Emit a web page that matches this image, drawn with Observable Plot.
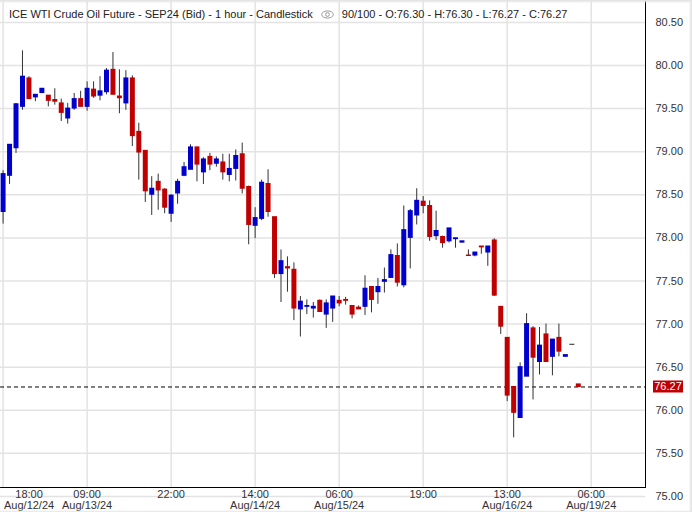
<!DOCTYPE html>
<html><head><meta charset="utf-8">
<script src="https://cdn.jsdelivr.net/npm/d3@7"></script>
<script src="https://cdn.jsdelivr.net/npm/@observablehq/plot@0.6"></script>
<style>
html,body{margin:0;padding:0;background:#fff;}
#wrap{position:relative;width:692px;height:512px;overflow:hidden;font-family:"Liberation Sans",Arial,sans-serif;}
#chart svg{display:block;}
#title{position:absolute;left:9px;top:8px;font-size:11px;line-height:13px;color:#222;white-space:nowrap;}
#title svg{vertical-align:-1px;margin:0 8px 0 8px;}
#edge{position:absolute;left:0;top:0;width:692px;height:512px;pointer-events:none;
 box-shadow: inset 0 3px 2px -1px #e4e4e4, inset -3px 0 2px -1px #e4e4e4, inset 0 -2px 2px -1px #e4e4e4;}
</style></head>
<body><div id="wrap"><div id="chart"></div><div id="title"></div><div id="edge"></div></div>
<script>
const chartTitle = "ICE WTI Crude Oil Future - SEP24 (Bid) - 1 hour - Candlestick";
const quality = "90/100";
const opens  = [78.30,78.72,79.04,79.52,79.85,79.63,79.68,79.65,79.60,79.56,79.385,79.50,79.61,79.52,79.72,79.65,79.69,79.95,79.64,79.56,
  79.85,79.23,79.01,78.50,78.65,78.56,78.28,78.515,78.72,78.79,79.05,78.76,78.94,78.86,78.875,78.73,78.80,78.97,78.59,78.14,
  78.22,78.625,78.24,77.58,77.66,77.63,77.17,77.20,77.18,77.27,77.11,77.18,77.27,77.28,77.21,77.19,77.20,77.43,77.37,77.49,
  77.535,77.79,77.45,78.00,78.26,78.42,78.37,78.02,78.01,77.96,77.985,77.945,77.795,77.795,77.90,77.83,77.97,77.20,76.84,76.27,
  75.91,76.39,76.95,76.56,76.88,76.62,76.84,76.62,76.76,76.30];
const highs  = [78.78,79.08,79.56,80.17,79.87,79.66,79.73,79.65,79.73,79.61,79.56,79.675,79.70,79.81,79.81,79.87,79.965,80.15,79.95,79.94,
  79.88,79.33,79.01,78.71,78.74,78.57,78.50,78.68,78.875,79.08,79.05,78.93,78.98,78.94,78.97,78.97,79.02,79.10,78.60,78.35,
  78.67,78.79,78.24,77.86,77.78,77.71,77.32,77.28,77.25,77.28,77.28,77.32,77.32,77.31,77.21,77.21,77.56,77.43,77.53,77.65,
  77.86,77.93,78.37,78.33,78.57,78.48,78.43,78.31,78.02,78.11,77.995,77.96,77.86,77.83,77.90,77.90,77.99,77.20,76.84,76.27,
  76.55,77.12,76.97,76.96,77.00,76.82,77.00,76.64,76.76,76.30];
const lows   = [78.16,78.62,78.98,79.48,79.61,79.58,79.68,79.52,79.54,79.35,79.32,79.48,79.52,79.47,79.62,79.59,79.66,79.66,79.44,79.48,
  79.06,78.67,78.41,78.26,78.32,78.28,78.18,78.39,78.71,78.79,78.65,78.62,78.78,78.82,78.67,78.65,78.66,78.51,77.92,77.99,
  78.20,78.24,77.53,77.25,77.37,77.04,76.85,77.11,77.07,77.14,76.95,77.02,77.20,77.22,77.06,77.17,77.10,77.13,77.23,77.36,
  77.535,77.43,77.42,77.64,78.15,78.28,77.96,77.97,77.88,77.94,77.88,77.94,77.79,77.78,77.81,77.67,77.32,76.88,76.10,75.68,
  75.91,76.39,76.12,76.41,76.56,76.40,76.62,76.62,76.76,76.27];
const closes = [78.74,79.08,79.55,79.87,79.61,79.66,79.73,79.59,79.58,79.45,79.50,79.61,79.52,79.73,79.64,79.70,79.94,79.66,79.62,79.85,
  79.18,78.99,78.54,78.57,78.55,78.35,78.49,78.65,78.82,79.05,78.85,78.91,78.85,78.91,78.76,78.80,78.95,78.57,78.15,78.23,
  78.64,78.30,77.58,77.73,77.645,77.18,77.26,77.21,77.20,77.14,77.24,77.32,77.24,77.27,77.11,77.17,77.41,77.28,77.43,77.51,
  77.80,77.48,78.09,78.31,78.43,78.37,78.01,78.08,77.94,78.11,77.995,77.96,77.79,77.83,77.89,77.90,77.33,76.97,76.17,75.97,
  76.50,77.00,76.61,76.75,76.56,76.82,76.68,76.64,76.76,76.27];
const xTickIndex  = [0, 13, 26, 39, 52, 65, 78, 91];
const xTickLabels = ["18:00\nAug/12/24","09:00\nAug/13/24","22:00","14:00\nAug/14/24","06:00\nAug/15/24","19:00","13:00\nAug/16/24","06:00\nAug/19/24"];
const yTicks = [80.5, 80, 79.5, 79, 78.5, 78, 77.5, 77, 76.5, 76, 75.5, 75];

const bars = opens.map((o, i) => ({i, o, h: highs[i], l: lows[i], c: closes[i]}));
const last = bars[bars.length - 1];
const colorOf = d => d.c > d.o ? "#0000cc" : d.c < d.o ? "#c00000" : "#222222";
const tickLabel = i => xTickLabels[xTickIndex.indexOf(i)];

const eye = '<svg width="13" height="9" viewBox="0 0 13 9"><ellipse cx="6.5" cy="4.5" rx="5.8" ry="3.6" fill="none" stroke="#999" stroke-width="1"/><circle cx="6.5" cy="4.5" r="1.9" fill="none" stroke="#999" stroke-width="1"/></svg>';
document.getElementById("title").innerHTML =
  chartTitle + eye + quality + " - O:" + last.o.toFixed(2) + " - H:" + last.h.toFixed(2) + " - L:" + last.l.toFixed(2) + " - C:" + last.c.toFixed(2);

const chart = Plot.plot({
  width: 692, height: 512,
  marginLeft: 0, marginTop: 0, marginRight: 47, marginBottom: 25,
  style: {fontFamily: "Liberation Sans, Arial, sans-serif", fontSize: "11px", color: "#333", background: "transparent"},
  x: {type: "linear", domain: [-0.4, 99.4]},
  y: {domain: [75.104, 80.754]},
  marks: [
    Plot.gridX({ticks: xTickIndex, stroke: "#e3e3e3", strokeOpacity: 1, strokeWidth: 1.5}),
    Plot.gridY({ticks: yTicks, stroke: "#e3e3e3", strokeOpacity: 1, strokeWidth: 1.5}),
    Plot.ruleY([last.c], {stroke: "#000", strokeWidth: 1, strokeDasharray: "4,3"}),
    Plot.ruleX(bars, {x: "i", y1: "l", y2: "h", stroke: "#333", strokeWidth: 1}),
    Plot.ruleX(bars, {x: "i", y1: d => Math.max(d.o, d.c), y2: d => Math.min(d.o, d.c), stroke: colorOf, strokeWidth: 5, insetTop: -0.5, insetBottom: -0.5}),
    Plot.frame({anchor: "bottom", stroke: "#000"}),
    Plot.frame({anchor: "right", stroke: "#000"}),
    Plot.axisY({ticks: yTicks, anchor: "right", tickSize: 0, tickPadding: 10, tickFormat: d => d.toFixed(2), label: null, fill: "#333"}),
    Plot.axisX({ticks: xTickIndex.slice(1), anchor: "bottom", tickSize: 0, tickPadding: 3, tickFormat: tickLabel, label: null, fill: "#333"}),
    Plot.axisX({ticks: xTickIndex.slice(0, 1), anchor: "bottom", tickSize: 0, tickPadding: 3, tickFormat: tickLabel, label: null, fill: "#333", dx: 26}),
    (index, scales, values, dims) => {
      const g = d3.create("svg:g");
      const yy = scales.y(last.c);
      const x0 = dims.width - dims.marginRight + 8;
      g.append("rect").attr("x", x0).attr("y", yy - 6).attr("width", 30).attr("height", 12).attr("fill", "#c00000");
      g.append("text").attr("x", x0 + 15).attr("y", yy).attr("dy", "0.35em").attr("text-anchor", "middle")
        .attr("fill", "#fff").attr("font-size", 11).text(last.c.toFixed(2));
      return g.node();
    }
  ]
});
document.getElementById("chart").appendChild(chart);
</script>
</body></html>
